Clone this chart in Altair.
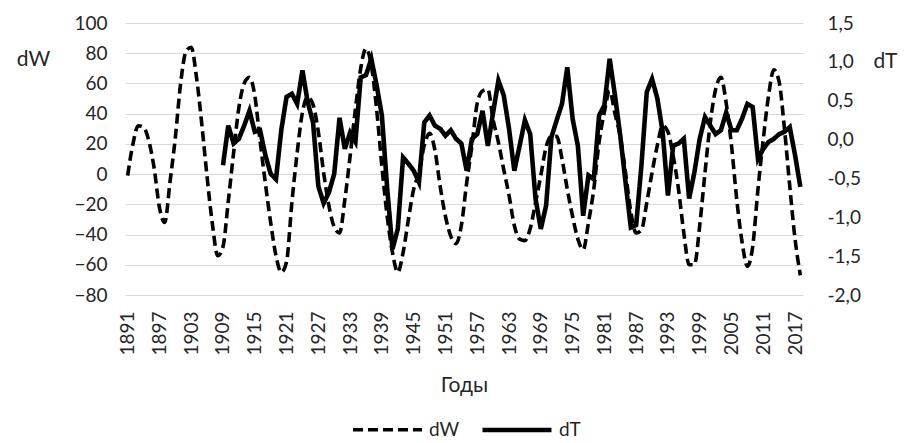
import altair as alt
import pandas as pd

# ---- data ----
dw_start_year = 1891
dw_values = [
    -1, 20, 32, 31, 22, 4, -22, -32, -5, 24,          # 1891-1900
    60, 81, 84, 64, 33, -2, -33, -54, -48, -18,       # 1901-1910
    14, 44, 60, 64, 52, 22, -6, -32, -54, -65,        # 1911-1920
    -58, -19, 14, 41, 51, 46, 28, 1, -21, -35,        # 1921-1930
    -39, -17, 12, 43, 70, 83, 72, 43, 5, -28,         # 1931-1940
    -52, -65, -52, -30, -10, 1, 19, 27, 16, -8,       # 1941-1950
    -28, -41, -46, -34, -6, 19, 47, 55, 56, 36,       # 1951-1960
    21, 3, -14, -34, -43, -44, -36, -19, -1, 18,      # 1961-1970
    25, 25, 10, -10, -28, -43, -50, -32, -10, 21,     # 1971-1980
    41, 55, 40, 25, 1, -25, -39, -37, -19, 1,         # 1981-1990
    19, 32, 28, 12, -10, -39, -60, -60, -34, 1,       # 1991-2000
    34, 56, 64, 47, 19, -17, -45, -61, -48, -10,      # 2001-2010
    23, 52, 69, 61, 30, -8, -43, -67,                 # 2011-2018
]

dt_start_year = 1909
dt_values = [
    -0.33, 0.18,                                                     # 1909-1910
    -0.05, 0.01, 0.18, 0.37, 0.10, 0.12, -0.20, -0.44, -0.51, 0.12,  # 1911-1920
    0.55, 0.59, 0.46, 0.89, 0.48, 0.22, -0.60, -0.82, -0.68, -0.44,  # 1921-1930
    0.28, -0.12, 0.09, -0.03, 0.80, 0.83, 1.04, 0.70, 0.31, -0.63,   # 1931-1940
    -1.41, -1.15, -0.23, -0.31, -0.40, -0.55, 0.22, 0.31, 0.18, 0.14,  # 1941-1950
    0.05, 0.12, 0.01, -0.05, -0.40, 0.01, 0.07, 0.37, -0.08, 0.35,   # 1951-1960
    0.76, 0.57, 0.14, -0.40, -0.08, 0.25, 0.07, -0.76, -1.15, -0.85, # 1961-1970
    0.03, 0.25, 0.46, 0.93, 0.27, -0.08, -0.98, -0.46, -0.51, 0.31,  # 1971-1980
    0.44, 1.04, 0.57, 0.05, -0.55, -1.13, -1.10, -0.33, 0.61, 0.78,  # 1981-1990
    0.53, 0.10, -0.72, -0.08, -0.05, 0.01, -0.76, -0.42, 0.01, 0.29, # 1991-2000
    0.18, 0.07, 0.12, 0.35, 0.12, 0.12, 0.27, 0.46, 0.42, -0.25,     # 2001-2010
    -0.12, -0.03, 0.01, 0.07, 0.10, 0.16, -0.20, -0.61,              # 2011-2018
]

x_tick_years = [1891, 1897, 1903, 1909, 1915, 1921, 1927, 1933, 1939, 1945, 1951,
                1957, 1963, 1969, 1975, 1981, 1987, 1993, 1999, 2005, 2011, 2017]
left_ticks = [-80, -60, -40, -20, 0, 20, 40, 60, 80, 100]
right_ticks = [-2.0, -1.5, -1.0, -0.5, 0.0, 0.5, 1.0, 1.5]
series_names = ["dW", "dT"]

rows = []
for i, v in enumerate(dw_values):
    rows.append({"year": dw_start_year + i, "value": v, "series": "dW"})
for i, v in enumerate(dt_values):
    rows.append({"year": dt_start_year + i, "value": v, "series": "dT"})
df = pd.DataFrame(rows)

FONT = "Lato"
TXT = "#262626"
LBL = 19
TTL = 21

x_enc = alt.X(
    "year:Q",
    scale=alt.Scale(domain=[1890.5, 2018.5], nice=False, zero=False),
    axis=alt.Axis(
        values=x_tick_years, format="d", labelAngle=270, labelAlign="right",
        labelBaseline="middle", labelPadding=16, labelFontSize=LBL,
        grid=False, domain=False, ticks=False, title="Годы",
        titleFontSize=TTL, titleFontWeight="normal", titleY=90,
        titleBaseline="middle",
    ),
)

legend = alt.Legend(
    title=None, orient="none", legendX=226, legendY=370, direction="horizontal",
    symbolType="stroke", symbolSize=4761, symbolStrokeColor="black",
    labelFontSize=LBL, labelOffset=5, columnPadding=13,
)

dash_enc = alt.StrokeDash(
    "series:N",
    scale=alt.Scale(domain=series_names, range=[[10, 5], [1, 0]]),
    legend=legend,
)
width_enc = alt.StrokeWidth(
    "series:N",
    scale=alt.Scale(domain=series_names, range=[3.6, 4.6]),
    legend=legend,
)

dw_layer = (
    alt.Chart(df)
    .transform_filter(alt.datum.series == "dW")
    .mark_line(color="black", interpolate="monotone", strokeCap="butt")
    .encode(
        x=x_enc,
        y=alt.Y(
            "value:Q",
            scale=alt.Scale(domain=[-80, 100], nice=False),
            axis=alt.Axis(
                values=left_ticks, grid=True, gridColor="#d9d9d9", gridWidth=1,
                domain=False, ticks=False, labelPadding=18, labelFontSize=LBL,
                title="dW", titleAngle=0, titleX=-92, titleY=36,
                titleAlign="center", titleBaseline="middle",
                titleFontSize=TTL, titleFontWeight="normal",
            ),
        ),
        strokeDash=dash_enc,
        strokeWidth=width_enc,
    )
)

dt_layer = (
    alt.Chart(df)
    .transform_filter(alt.datum.series == "dT")
    .mark_line(color="black", strokeJoin="miter")
    .encode(
        x=x_enc,
        y=alt.Y(
            "value:Q",
            scale=alt.Scale(domain=[-2.0, 1.5], nice=False),
            axis=alt.Axis(
                orient="right", values=right_ticks, grid=False, domain=False,
                ticks=False, labelPadding=24, labelFontSize=LBL,
                labelExpr="(datum.value < 0 ? '-' : '') + replace(format(abs(datum.value), '.1f'), '.', ',')",
                title="dT", titleAngle=0, titleX=82, titleY=38,
                titleAlign="center", titleBaseline="middle",
                titleFontSize=TTL, titleFontWeight="normal",
            ),
        ),
        strokeDash=dash_enc,
        strokeWidth=width_enc,
    )
)

chart = (
    alt.layer(dw_layer, dt_layer)
    .resolve_scale(y="independent")
    .properties(
        width=678, height=272,
        autosize=alt.AutoSizeParams(type="none"),
        padding={"left": 117, "top": 15, "right": 100, "bottom": 146},
        background="white",
    )
    .configure_view(stroke=None)
    .configure_axis(labelFont=FONT, titleFont=FONT, labelColor=TXT, titleColor=TXT)
    .configure_legend(labelFont=FONT, labelColor=TXT)
)

chart.save("out.html", embed_options={"renderer": "svg", "actions": False})
